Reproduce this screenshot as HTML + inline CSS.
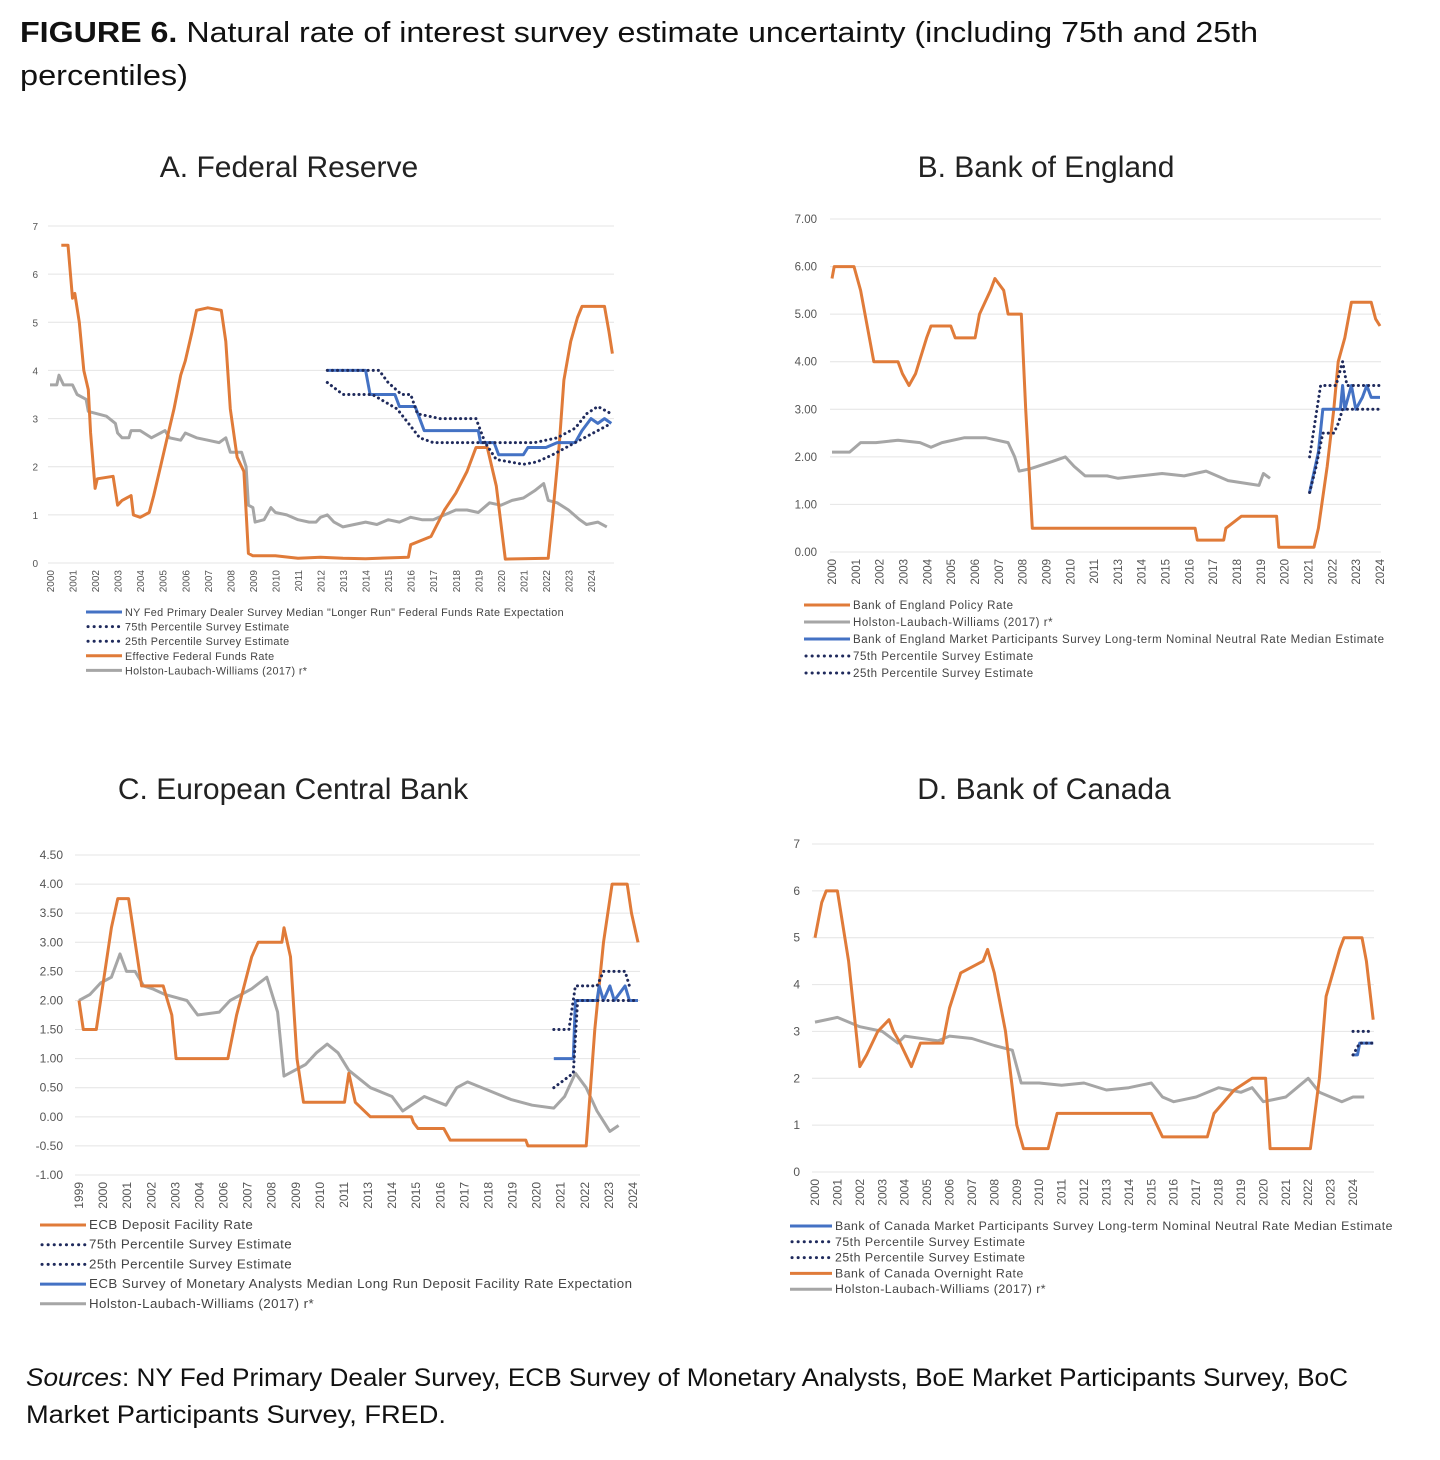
<!DOCTYPE html>
<html><head><meta charset="utf-8"><style>
body{margin:0;background:#fff;width:1440px;height:1460px;overflow:hidden;font-family:"Liberation Sans",sans-serif}
svg{position:absolute;left:0;top:0}
</style></head><body>
<svg id="s" width="1440" height="1460" xmlns="http://www.w3.org/2000/svg" font-family="Liberation Sans, sans-serif">
<text x="20" y="42" font-size="29" fill="#111" textLength="1238" lengthAdjust="spacingAndGlyphs"><tspan font-weight="bold">FIGURE 6.</tspan> Natural rate of interest survey estimate uncertainty (including 75th and 25th</text>
<text x="20" y="85" font-size="29" fill="#111" textLength="168" lengthAdjust="spacingAndGlyphs">percentiles)</text>
<text x="289" y="177" font-size="30" fill="#222" text-anchor="middle">A. Federal Reserve</text>
<text x="1046" y="177" font-size="30" fill="#222" text-anchor="middle">B. Bank of England</text>
<text x="293" y="799" font-size="30" fill="#222" text-anchor="middle">C. European Central Bank</text>
<text x="1044" y="799" font-size="30" fill="#222" text-anchor="middle">D. Bank of Canada</text>
<text x="26" y="1386" font-size="25" fill="#111" textLength="1322" lengthAdjust="spacingAndGlyphs"><tspan font-style="italic">Sources</tspan>: NY Fed Primary Dealer Survey, ECB Survey of Monetary Analysts, BoE Market Participants Survey, BoC</text>
<text x="26" y="1423" font-size="25" fill="#111" textLength="420" lengthAdjust="spacingAndGlyphs">Market Participants Survey, FRED.</text>
<g id="g"></g>
</svg>
<script>
const NS="http://www.w3.org/2000/svg",G=document.getElementById('g');
function el(t,a,txt){const e=document.createElementNS(NS,t);for(const k in a)e.setAttribute(k,a[k]);if(txt!==undefined)e.textContent=txt;G.appendChild(e);return e;}
const OR="#E07B39",GR="#A6A6A6",BL="#4472C4",NV="#1F2A5C";
function panel(p){
 const X=y=>p.x0+(y-p.y0)*(p.x1-p.x0)/(p.y1-p.y0);
 const Y=v=>p.b+(v-p.vmin)*(p.t-p.b)/(p.vmax-p.vmin);
 for(let v=p.vmin;v<=p.vmax+1e-9;v+=p.step){
  el('line',{x1:p.gl,x2:p.gr,y1:Y(v),y2:Y(v),stroke:"#e4e4e4","stroke-width":1});
  el('text',{x:p.lx,y:Y(v)+4,"font-size":p.fs,fill:"#555","text-anchor":"end"},v.toFixed(p.dec));
 }
 const n=p.labels.length;
 p.labels.forEach((l,i)=>{const x=p.la+i*(p.lb-p.la)/(n-1);
  el('text',{x:0,y:0,"font-size":p.fs,fill:"#555","text-anchor":"end",transform:`translate(${x+4},${p.b+7}) rotate(-90)`},l);});
 p.series.forEach(s=>{
  const d=s.d.map((q,i)=>(i?'L':'M')+X(q[0]).toFixed(1)+','+Y(q[1]).toFixed(1)).join('');
  const a={d:d,fill:"none",stroke:s.c,"stroke-width":s.w||3,"stroke-linejoin":"round"};
  if(s.dot){a["stroke-dasharray"]="0.1 5";a["stroke-linecap"]="round";a["stroke-width"]=3;}
  el('path',a);
 });
 p.leg.forEach((L,i)=>{const y=p.ly+i*p.lh;
  const a={x1:p.lgx,x2:p.lgx+p.lw,y1:y,y2:y,stroke:L[1],"stroke-width":3};
  if(L[2]){a["stroke-dasharray"]="0.1 6";a["stroke-linecap"]="round";a["stroke-width"]=3;a.x1=p.lgx+2;}
  el('line',a);
  el('text',{x:p.lgx+p.lw+3,y:y+4,"font-size":p.lfs,fill:"#444","letter-spacing":p.ls},L[0]);});
}
const yrs=(a,b,skip)=>{const r=[];for(let y=a;y<=b;y++)if(!(skip||[]).includes(y))r.push(String(y));return r;};
// A
panel({x0:50,y0:2000,x1:591,y1:2024,t:226,b:563,vmin:0,vmax:7,step:1,dec:0,gl:48,gr:614,lx:38,fs:10,
labels:yrs(2000,2024),la:50,lb:591,
series:[
{c:GR,d:[[2000,3.7],[2000.3,3.7],[2000.4,3.9],[2000.6,3.7],[2001,3.7],[2001.2,3.5],[2001.6,3.4],[2001.7,3.15],[2002.5,3.05],[2002.9,2.9],[2003,2.7],[2003.2,2.6],[2003.5,2.6],[2003.6,2.75],[2004,2.75],[2004.5,2.6],[2004.9,2.7],[2005.1,2.75],[2005.3,2.6],[2005.8,2.55],[2006,2.7],[2006.5,2.6],[2007,2.55],[2007.5,2.5],[2007.8,2.6],[2008,2.3],[2008.5,2.3],[2008.7,2.0],[2008.8,1.2],[2009,1.15],[2009.1,0.85],[2009.5,0.9],[2009.8,1.15],[2010,1.05],[2010.5,1.0],[2011,0.9],[2011.5,0.85],[2011.8,0.85],[2012,0.95],[2012.3,1.0],[2012.6,0.85],[2013,0.75],[2013.5,0.8],[2014,0.85],[2014.5,0.8],[2015,0.9],[2015.5,0.85],[2016,0.95],[2016.5,0.9],[2017,0.9],[2017.5,1.0],[2018,1.1],[2018.5,1.1],[2019,1.05],[2019.5,1.25],[2020,1.2],[2020.5,1.3],[2021,1.35],[2021.5,1.5],[2021.9,1.65],[2022.1,1.3],[2022.5,1.25],[2023,1.1],[2023.5,0.9],[2023.8,0.8],[2024.3,0.85],[2024.7,0.75]]},
{c:OR,d:[[2000.5,6.6],[2000.8,6.6],[2001,5.5],[2001.1,5.6],[2001.3,5.0],[2001.5,4.0],[2001.7,3.6],[2001.8,2.7],[2002,1.55],[2002.1,1.75],[2002.8,1.8],[2003,1.2],[2003.2,1.3],[2003.6,1.4],[2003.7,1.0],[2004,0.95],[2004.4,1.05],[2004.6,1.4],[2004.9,2.0],[2005.2,2.6],[2005.5,3.2],[2005.8,3.9],[2006,4.2],[2006.3,4.8],[2006.5,5.25],[2007,5.3],[2007.6,5.25],[2007.8,4.6],[2008,3.2],[2008.3,2.2],[2008.6,1.9],[2008.8,0.2],[2009,0.15],[2010,0.15],[2011,0.1],[2012,0.12],[2013,0.1],[2014,0.09],[2015.9,0.12],[2016,0.38],[2016.9,0.55],[2017.5,1.1],[2018,1.45],[2018.5,1.9],[2018.9,2.4],[2019.4,2.4],[2019.8,1.6],[2020.2,0.08],[2022.1,0.1],[2022.3,1.0],[2022.6,2.5],[2022.8,3.8],[2023.1,4.6],[2023.4,5.1],[2023.6,5.33],[2024.6,5.33],[2024.8,4.8],[2024.95,4.35]]},
{c:BL,d:[[2012.3,4],[2014,4],[2014.2,3.5],[2015.3,3.5],[2015.5,3.25],[2016.2,3.25],[2016.4,3.0],[2016.6,2.75],[2017.6,2.75],[2017.8,2.75],[2019,2.75],[2019.1,2.5],[2019.7,2.5],[2019.9,2.25],[2021,2.25],[2021.2,2.4],[2022,2.4],[2022.5,2.5],[2023.3,2.5],[2023.6,2.75],[2024,3.0],[2024.3,2.9],[2024.6,3.0],[2024.9,2.9]]},
{c:NV,dot:1,d:[[2012.3,4],[2014.6,4],[2015,3.75],[2015.6,3.5],[2016,3.5],[2016.3,3.1],[2017.3,3.0],[2018.9,3.0],[2019.3,2.5],[2021.5,2.5],[2022.5,2.6],[2023.3,2.8],[2023.8,3.1],[2024.3,3.25],[2024.9,3.1]]},
{c:NV,dot:1,d:[[2012.3,3.75],[2013,3.5],[2013.5,3.5],[2014.3,3.5],[2015.4,3.2],[2016.4,2.6],[2017,2.5],[2019.3,2.5],[2019.8,2.15],[2021,2.05],[2021.6,2.1],[2022.3,2.25],[2023.3,2.5],[2024.3,2.75],[2024.9,2.9]]}],
lgx:86,lw:36,ly:612,lh:14.6,lfs:10.8,ls:0.35,leg:[["NY Fed Primary Dealer Survey Median \"Longer Run\" Federal Funds Rate Expectation",BL],["75th Percentile Survey Estimate",NV,1],["25th Percentile Survey Estimate",NV,1],["Effective Federal Funds Rate",OR],["Holston-Laubach-Williams (2017) r*",GR]]});
// B
panel({x0:832,y0:2000,x1:1380,y1:2024.9,t:219,b:552,vmin:0,vmax:7,step:1,dec:2,gl:830,gr:1381,lx:817,fs:11.5,
labels:yrs(2000,2024,[2012]),la:832,lb:1380,
series:[
{c:GR,d:[[2000,2.1],[2000.8,2.1],[2001.3,2.3],[2002,2.3],[2003,2.35],[2004,2.3],[2004.5,2.2],[2005,2.3],[2006,2.4],[2007,2.4],[2008,2.3],[2008.3,2.0],[2008.5,1.7],[2009,1.75],[2010,1.9],[2010.6,2.0],[2011,1.8],[2011.5,1.6],[2012.5,1.6],[2013,1.55],[2014,1.6],[2015,1.65],[2016,1.6],[2017,1.7],[2018,1.5],[2019.4,1.4],[2019.6,1.65],[2019.9,1.55]]},
{c:OR,d:[[2000,5.75],[2000.1,6],[2001,6],[2001.3,5.5],[2001.7,4.5],[2001.9,4],[2003,4],[2003.2,3.75],[2003.5,3.5],[2003.8,3.75],[2004.3,4.5],[2004.5,4.75],[2005.4,4.75],[2005.6,4.5],[2006.5,4.5],[2006.7,5],[2007.2,5.5],[2007.4,5.75],[2007.8,5.5],[2008,5],[2008.6,5],[2008.8,3],[2009.1,0.5],[2016.5,0.5],[2016.6,0.25],[2017.8,0.25],[2017.9,0.5],[2018.6,0.75],[2020.2,0.75],[2020.3,0.1],[2021.9,0.1],[2022.1,0.5],[2022.5,1.8],[2022.8,3.0],[2023,4.0],[2023.3,4.5],[2023.6,5.25],[2024.5,5.25],[2024.7,4.9],[2024.9,4.75]]},
{c:BL,d:[[2021.7,1.25],[2022.1,2.1],[2022.3,3.0],[2023.1,3.0],[2023.2,3.5],[2023.3,3.0],[2023.6,3.5],[2023.8,3.0],[2024.1,3.25],[2024.3,3.5],[2024.5,3.25],[2024.9,3.25]]},
{c:NV,dot:1,d:[[2021.7,2.0],[2022.2,3.5],[2022.9,3.5],[2023.2,4.0],[2023.4,3.5],[2024.9,3.5]]},
{c:NV,dot:1,d:[[2021.7,1.25],[2022,1.8],[2022.3,2.5],[2022.8,2.5],[2023,2.7],[2023.2,3.0],[2023.6,3.0],[2024.9,3.0]]}],
lgx:804,lw:46,ly:605,lh:17,lfs:11.5,ls:0.55,leg:[["Bank of England Policy Rate",OR],["Holston-Laubach-Williams (2017) r*",GR],["Bank of England Market Participants Survey Long-term Nominal Neutral Rate Median Estimate",BL],["75th Percentile Survey Estimate",NV,1],["25th Percentile Survey Estimate",NV,1]]});
// C
panel({x0:79,y0:1999,x1:638,y1:2024.9,t:855,b:1175,vmin:-1,vmax:4.5,step:0.5,dec:2,gl:75,gr:640,lx:63,fs:12,
labels:yrs(1999,2024,[2005,2012]),la:79,lb:633,
series:[
{c:GR,d:[[1999,2],[1999.5,2.1],[2000,2.3],[2000.5,2.4],[2000.9,2.8],[2001.2,2.5],[2001.6,2.5],[2002,2.25],[2002.4,2.2],[2003,2.1],[2004,2.0],[2004.5,1.75],[2005.5,1.8],[2006,2.0],[2007,2.2],[2007.7,2.4],[2008.2,1.8],[2008.5,0.7],[2009.5,0.9],[2010,1.1],[2010.5,1.25],[2011,1.1],[2011.5,0.8],[2012.5,0.5],[2013.5,0.35],[2014,0.1],[2015,0.35],[2016,0.2],[2016.5,0.5],[2017,0.6],[2018,0.45],[2019,0.3],[2020,0.2],[2021,0.15],[2021.5,0.35],[2022,0.75],[2022.5,0.5],[2023,0.1],[2023.6,-0.25],[2024,-0.15]]},
{c:OR,d:[[1999,2],[1999.2,1.5],[1999.8,1.5],[2000,2],[2000.5,3.25],[2000.8,3.75],[2001.3,3.75],[2001.7,2.75],[2001.9,2.25],[2002.9,2.25],[2003.3,1.75],[2003.5,1],[2005.9,1],[2006.3,1.75],[2007,2.75],[2007.3,3],[2008.4,3],[2008.5,3.25],[2008.8,2.75],[2009.1,1],[2009.4,0.25],[2011.3,0.25],[2011.5,0.75],[2011.8,0.25],[2012.5,0],[2014.4,0],[2014.5,-0.1],[2014.7,-0.2],[2015.9,-0.2],[2016.2,-0.4],[2019.7,-0.4],[2019.8,-0.5],[2022.5,-0.5],[2022.6,0],[2022.9,1.5],[2023.3,3],[2023.7,4],[2024.4,4],[2024.6,3.5],[2024.9,3.0]]},
{c:BL,d:[[2021,1],[2021.9,1],[2022,2],[2023,2],[2023.1,2.25],[2023.3,2],[2023.6,2.25],[2023.8,2],[2024.3,2.25],[2024.5,2],[2024.9,2]]},
{c:NV,dot:1,d:[[2021,1.5],[2021.7,1.5],[2022,2.25],[2023,2.25],[2023.3,2.5],[2024.3,2.5],[2024.5,2.25]]},
{c:NV,dot:1,d:[[2021,0.5],[2021.9,0.75],[2022.1,2],[2023,2],[2024.9,2]]}],
lgx:40,lw:46,ly:1225,lh:19.7,lfs:13.3,ls:0.45,leg:[["ECB Deposit Facility Rate",OR],["75th Percentile Survey Estimate",NV,1],["25th Percentile Survey Estimate",NV,1],["ECB Survey of Monetary Analysts Median Long Run Deposit Facility Rate Expectation",BL],["Holston-Laubach-Williams (2017) r*",GR]]});
// D
panel({x0:815,y0:2000,x1:1353,y1:2024,t:844,b:1172,vmin:0,vmax:7,step:1,dec:0,gl:812,gr:1374,lx:800,fs:12,
labels:yrs(2000,2024),la:815,lb:1353,
series:[
{c:GR,d:[[2000,3.2],[2001,3.3],[2002,3.1],[2003,3.0],[2003.7,2.75],[2004,2.9],[2005.5,2.8],[2006,2.9],[2007,2.85],[2008,2.7],[2008.8,2.6],[2009.2,1.9],[2010,1.9],[2011,1.85],[2012,1.9],[2013,1.75],[2014,1.8],[2015,1.9],[2015.5,1.6],[2016,1.5],[2017,1.6],[2018,1.8],[2019,1.7],[2019.5,1.8],[2020,1.5],[2021,1.6],[2022,2],[2022.5,1.7],[2023,1.6],[2023.5,1.5],[2024,1.6],[2024.5,1.6]]},
{c:OR,d:[[2000,5],[2000.3,5.75],[2000.5,6],[2001,6],[2001.5,4.5],[2002,2.25],[2002.3,2.5],[2002.8,3],[2003.3,3.25],[2003.5,3],[2003.8,2.75],[2004.3,2.25],[2004.7,2.75],[2005.7,2.75],[2006,3.5],[2006.5,4.25],[2007.5,4.5],[2007.7,4.75],[2008,4.25],[2008.5,3],[2009,1],[2009.3,0.5],[2010.4,0.5],[2010.8,1.25],[2015,1.25],[2015.5,0.75],[2017.5,0.75],[2017.8,1.25],[2018.7,1.75],[2019.5,2],[2020.1,2],[2020.3,0.5],[2022.1,0.5],[2022.5,2],[2022.8,3.75],[2023.4,4.75],[2023.6,5],[2024.4,5],[2024.6,4.5],[2024.9,3.25]]},
{c:BL,d:[[2024,2.5],[2024.2,2.5],[2024.3,2.75],[2024.9,2.75]]},
{c:NV,dot:1,d:[[2024,3],[2024.9,3]]},
{c:NV,dot:1,d:[[2024,2.5],[2024.3,2.75],[2024.9,2.75]]}],
lgx:790,lw:42,ly:1226,lh:15.8,lfs:12.3,ls:0.5,leg:[["Bank of Canada Market Participants Survey Long-term Nominal Neutral Rate Median Estimate",BL],["75th Percentile Survey Estimate",NV,1],["25th Percentile Survey Estimate",NV,1],["Bank of Canada Overnight Rate",OR],["Holston-Laubach-Williams (2017) r*",GR]]});
</script>
</body></html>
